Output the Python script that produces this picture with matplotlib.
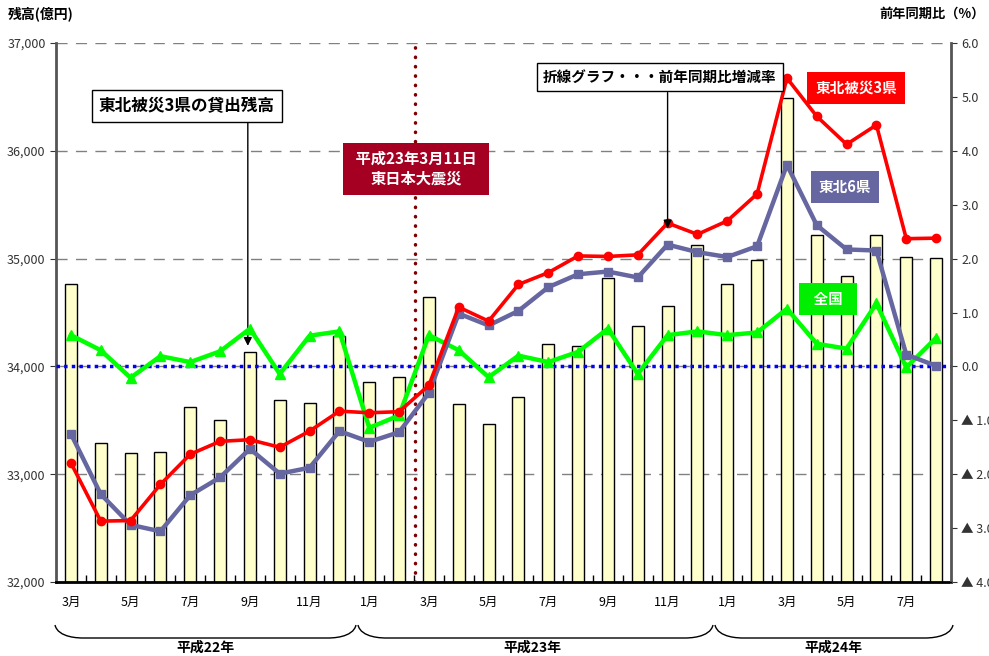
import matplotlib.pyplot as plt
from matplotlib.path import Path
from matplotlib.patches import PathPatch
import numpy as np

plt.rcParams['font.family'] = ['Noto Sans CJK JP', 'DejaVu Sans']

# 平成22年3月 ～ 平成24年8月
months = [3, 4, 5, 6, 7, 8, 9, 10, 11, 12,
          1, 2, 3, 4, 5, 6, 7, 8, 9, 10, 11, 12,
          1, 2, 3, 4, 5, 6, 7, 8]

# 東北被災3県の貸出残高（億円）
zandaka = [34760, 33292, 33197, 33209, 33626, 33503, 34131, 33688, 33663, 34285,
           33858, 33902, 34641, 33651, 33466, 33716, 34208, 34189, 34823, 34378,
           34563, 35126, 34769, 34984, 36487, 35219, 34841, 35222, 35015, 35003]

# 前年同期比（%）
hisai3 = [-1.79, -2.87, -2.86, -2.19, -1.63, -1.39, -1.36, -1.50, -1.20, -0.83,
          -0.86, -0.84, -0.35, 1.10, 0.84, 1.52, 1.74, 2.05, 2.04, 2.07,
          2.66, 2.45, 2.70, 3.20, 5.35, 4.64, 4.12, 4.48, 2.37, 2.38]
tohoku6 = [-1.25, -2.37, -2.94, -3.06, -2.39, -2.06, -1.53, -1.99, -1.88, -1.20,
           -1.40, -1.22, -0.49, 0.98, 0.76, 1.03, 1.47, 1.71, 1.76, 1.65,
           2.26, 2.12, 2.03, 2.23, 3.74, 2.62, 2.17, 2.15, 0.22, 0.01]
zenkoku = [0.58, 0.30, -0.21, 0.19, 0.08, 0.28, 0.70, -0.14, 0.57, 0.65,
           -1.14, -0.91, 0.58, 0.30, -0.20, 0.20, 0.08, 0.27, 0.70, -0.14,
           0.58, 0.65, 0.58, 0.63, 1.07, 0.42, 0.33, 1.17, -0.02, 0.53]

years = ['平成22年', '平成23年', '平成24年']
left_ticks = [32000, 33000, 34000, 35000, 36000, 37000]
right_ticks = [-4, -3, -2, -1, 0, 1, 2, 3, 4, 5, 6]

x = np.arange(len(months))

fig = plt.figure(figsize=(9.89, 6.56), dpi=100)
ax = fig.add_axes([0.0566, 0.1128, 0.905, 0.8216])

ax.bar(x, zandaka, width=0.4, color='#ffffcc', edgecolor='black', linewidth=1, zorder=2)
ax.set_xlim(-0.5, len(months) - 0.5)
ax.set_ylim(32000, 37000)
ax.set_yticks(left_ticks)
ax.set_yticklabels(['{:,}'.format(v) for v in left_ticks], fontsize=9)
for v in left_ticks[1:]:
    ax.axhline(v, color='#808080', linewidth=1, dashes=(8, 6), zorder=1)

ax.set_xticks(x[::2])
ax.set_xticklabels(['%d月' % m for m in months[::2]], fontsize=9)
ax.set_xticks(np.arange(0.5, len(months) - 0.5, 1), minor=True)
ax.tick_params(axis='x', which='major', length=0, pad=10)
ax.tick_params(axis='x', which='minor', direction='in', length=5, width=1)
ax.tick_params(axis='y', direction='out', length=4, colors='#333333')

ax.spines['top'].set_visible(False)
ax.spines['left'].set_color('#555555')
ax.spines['left'].set_linewidth(2)
ax.spines['bottom'].set_linewidth(2)

ax2 = ax.twinx()
ax2.set_ylim(-4, 6)
ax2.set_yticks(right_ticks)
ax2.set_yticklabels(['%.1f' % v if v >= 0 else '▲ %.1f' % -v for v in right_ticks], fontsize=9)
ax2.tick_params(axis='y', direction='out', length=4, colors='#333333')
ax2.spines['top'].set_visible(False)
ax2.spines['right'].set_color('#555555')
ax2.spines['right'].set_linewidth(2)
ax2.spines['left'].set_visible(False)

ax2.axhline(0, color='#0000ff', linewidth=2.5, linestyle=(0, (1, 1.2)), zorder=1)
ax2.axvline(11.55, color='#800000', linewidth=2.5, linestyle=(0, (0.1, 2.6)),
            dash_capstyle='round', zorder=1)

ax2.plot(x, zenkoku, color='#00ff00', linewidth=3.2, marker='^', markersize=7, zorder=3)
ax2.plot(x, tohoku6, color='#6666a0', linewidth=3.2, marker='s', markersize=6, zorder=4)
ax2.plot(x, hisai3, color='#ff0000', linewidth=2.6, marker='o', markersize=6, zorder=5)

# 注記
box = dict(boxstyle='square,pad=0.4', facecolor='white', edgecolor='black', linewidth=1)
fig.text(187 / 989, 1 - 106 / 656, '東北被災3県の貸出残高', ha='center', va='center',
         fontsize=12, fontweight='bold', bbox=box, zorder=6)
fig.text(660 / 989, 1 - 77 / 656, '折線グラフ・・・前年同期比増減率', ha='center', va='center',
         fontsize=10.5, fontweight='bold', bbox=box, zorder=6)

arrow = dict(arrowstyle='-|>', color='black', linewidth=1, mutation_scale=12, shrinkA=0, shrinkB=0)
ax.annotate('', xy=(5.93, zandaka[6] + 60), xytext=(5.93, 36290), arrowprops=arrow, zorder=6)
ax2.annotate('', xy=(20, hisai3[20] - 0.1), xytext=(20, 5.08), arrowprops=arrow, zorder=6)

def label_box(cx, cy, text, color, size=10.5):
    fig.text(cx / 989, 1 - cy / 656, text, ha='center', va='center', color='white',
             fontsize=size, fontweight='bold', linespacing=1.3,
             bbox=dict(boxstyle='square,pad=0.55', facecolor=color, edgecolor='none'))

label_box(856, 88, '東北被災3県', '#ff0000')
label_box(845, 187, '東北6県', '#6666a0')
label_box(828, 299, '  全国  ', '#00ee00')
label_box(416, 169, ' 平成23年3月11日 \n東日本大震災', '#a50021', size=11)

fig.text(8 / 989, 1 - 14 / 656, '残高(億円)', ha='left', va='center', fontsize=10, fontweight='bold')
fig.text(985 / 989, 1 - 14 / 656, '前年同期比（%）', ha='right', va='center', fontsize=9.5, fontweight='bold')

# 年の括弧
def brace(x0, x1, ytop=625, ybot=638):
    pts = [(x0, ytop), (x0 + 3, ybot), (x0 + 25, ybot), (x0 + 28, ybot),
           (x1 - 28, ybot), (x1 - 25, ybot), (x1 - 3, ybot), (x1, ytop)]
    codes = [Path.MOVETO, Path.CURVE4, Path.CURVE4, Path.LINETO,
             Path.LINETO, Path.CURVE4, Path.CURVE4, Path.CURVE4]
    verts = [(px / 989, 1 - py / 656) for px, py in pts]
    fig.patches.append(PathPatch(Path(verts, codes), facecolor='none', edgecolor='black',
                                 linewidth=1, transform=fig.transFigure))

brace(55, 356)
brace(358, 713)
brace(715, 953)
for cx, t in zip([205, 532, 833], years):
    fig.text(cx / 989, 1 - 648 / 656, t, ha='center', va='center', fontsize=10, fontweight='bold')

plt.savefig('out.png', dpi=100)
